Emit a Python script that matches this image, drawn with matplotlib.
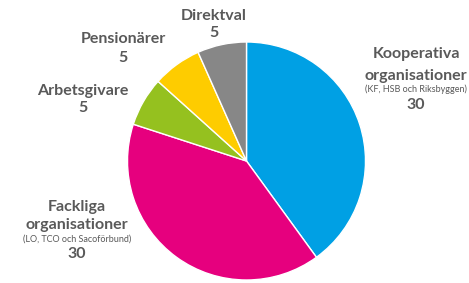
import matplotlib.pyplot as plt

# Data
titles = [['Kooperativa', 'organisationer'], ['Fackliga', 'organisationer'],
          ['Arbetsgivare'], ['Pensionärer'], ['Direktval']]
notes = ['(KF, HSB och Riksbyggen)', '(LO, TCO och Sacoförbund)', '', '', '']
values = [30, 30, 5, 5, 5]
colors = ['#00A0E4', '#E6007E', '#95C11F', '#FECC00', '#878787']

plt.rcParams['font.family'] = ['Lato', 'DejaVu Sans']

W, H = 469, 283
fig = plt.figure(figsize=(W / 100, H / 100), dpi=100)
cx, cy, r = 246.5, 161, 119
ax = fig.add_axes([(cx - r) / W, (H - cy - r) / H, 2 * r / W, 2 * r / H])

ax.pie(values, colors=colors, startangle=90, counterclock=False,
       radius=1, wedgeprops=dict(edgecolor='white', linewidth=1))
ax.set_xlim(-1, 1)
ax.set_ylim(-1, 1)
ax.set_aspect('equal')
ax.axis('off')


def px(x, y):
    return (x - cx) / r, (cy - y) / r


grey = '#595959'
# label layout in pixels: centre x, baselines of title lines, note, value
layout = [
    (416, [58, 80], 92, 109),
    (77, [211, 229], 242, 258),
    (83, [95], None, 112),
    (123, [43], None, 62),
    (214, [20], None, 37),
]
for lines, note, val, (x, ys, ny, vy) in zip(titles, notes, values, layout):
    for line, y in zip(lines, ys):
        ax.text(*px(x, y), line, ha='center', va='baseline', fontsize=11.5,
                fontweight='bold', color=grey, clip_on=False)
    if note:
        ax.text(*px(x, ny), note, ha='center', va='baseline', fontsize=6.5,
                color=grey, clip_on=False)
    ax.text(*px(x, vy), str(val), ha='center', va='baseline', fontsize=11.5,
            fontweight='bold', color=grey, clip_on=False)

fig.savefig('out.png', dpi=100)
